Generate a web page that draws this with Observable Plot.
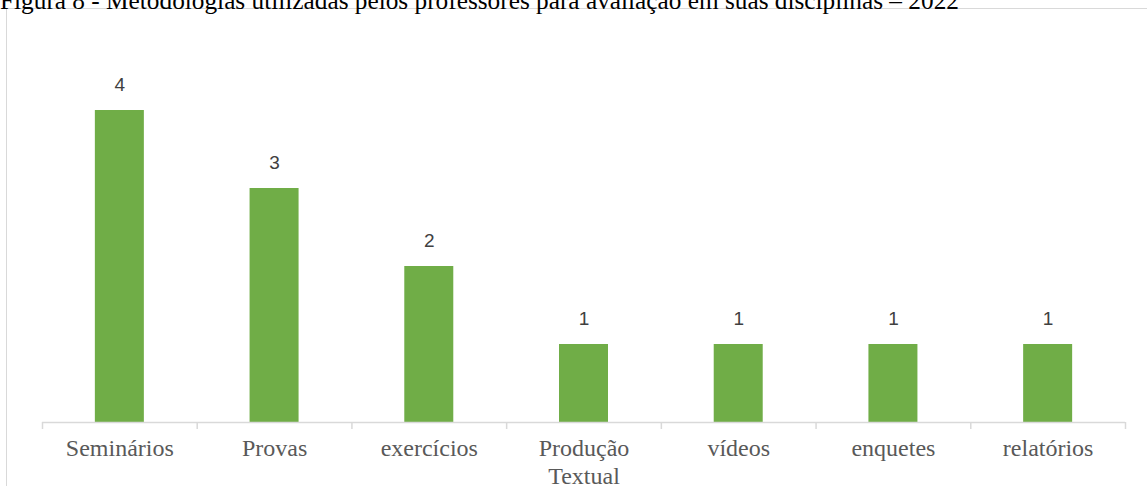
<!DOCTYPE html>
<html>
<head>
<meta charset="utf-8">
<script src="https://cdn.jsdelivr.net/npm/d3@7"></script>
<script src="https://cdn.jsdelivr.net/npm/@observablehq/plot@0.6"></script>
<style>
  html, body { margin: 0; padding: 0; background: #fff; overflow: hidden; width: 1147px; height: 486px; }
  #frame { position: absolute; left: 6px; top: 8px; width: 1200px; height: 600px; border: 1.5px solid #d9d9d9; box-sizing: border-box; }
  #title { position: absolute; left: 0; top: -12px; font-family: "Liberation Serif", serif; font-size: 25.3px; color: #000; white-space: nowrap; line-height: 1; }
  #chart { position: absolute; left: 0; top: 0; }
</style>
</head>
<body>
<div id="frame"></div>
<div id="chart"></div>
<div id="title">Figura 8 - Metodologias utilizadas pelos professores para avaliação em suas disciplinas – 2022</div>
<script>
const categories = ["Seminários", "Provas", "exercícios", "Produção\nTextual", "vídeos", "enquetes", "relatórios"];
const values = [4, 3, 2, 1, 1, 1, 1];

const data = categories.map((c, i) => ({category: c, value: values[i]}));

const W = 1147, H = 486, mL = 42, mR = 22, mT = 32, mB = 64;
const step = (W - mL - mR) / categories.length;
const barW = 49;
const inset = (step - barW) / 2;
const axisColor = "#d9d9d9";

const chart = Plot.plot({
  width: W,
  height: H,
  marginLeft: mL,
  marginRight: mR,
  marginTop: mT,
  marginBottom: mB,
  x: {domain: categories, padding: 0, round: false, axis: null},
  y: {domain: [0, 5], axis: null},
  style: {background: "transparent", overflow: "visible"},
  marks: [
    Plot.barY(data, {x: "category", y: "value", fill: "#70ad47", insetLeft: inset, insetRight: inset}),
    Plot.ruleY([0], {stroke: axisColor, strokeWidth: 1.5}),
    Plot.ruleX(data, {x: "category", y1: 0, y2: -0.09, dx: -step / 2, stroke: axisColor, strokeWidth: 1.5}),
    Plot.ruleX(data.slice(-1), {x: "category", y1: 0, y2: -0.09, dx: step / 2, stroke: axisColor, strokeWidth: 1.5}),
    Plot.text(data, {x: "category", y: "value", text: d => String(d.value), dy: -26, fontFamily: "Liberation Sans, Arial, sans-serif", fontSize: 19, fill: "#404040"}),
    Plot.text(data, {x: "category", y: 0, text: "category", dy: 14, lineAnchor: "top", lineHeight: 1.15, fontFamily: "Liberation Serif, serif", fontSize: 24, fill: "#595959"})
  ]
});
document.getElementById("chart").appendChild(chart);
</script>
</body>
</html>
